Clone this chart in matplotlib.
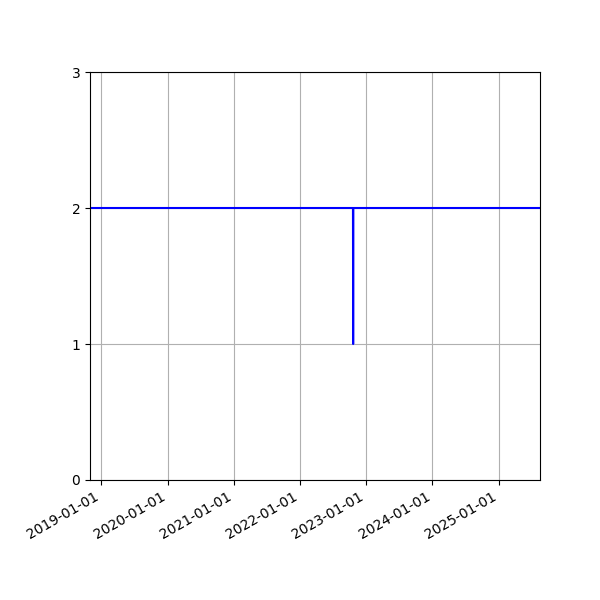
import matplotlib
matplotlib.use("Agg")
import matplotlib.pyplot as plt
import matplotlib.dates as mdates
import numpy as np

# Значення ряду (дати та рівні)
dates = np.array(["2018-10-30", "2022-10-20", "2022-10-21", "2022-10-22", "2025-08-17"],
                 dtype="datetime64[D]")
values = [2, 2, 1, 2, 2]

fig, ax = plt.subplots(figsize=(6, 6), dpi=100)
ax.plot(dates, values, color="blue", linewidth=1.5)

ax.set_xlim(dates[0], dates[-1])
ax.set_ylim(0, 3)
ax.set_yticks([0, 1, 2, 3])
ax.xaxis.set_major_locator(mdates.YearLocator())
ax.xaxis.set_major_formatter(mdates.DateFormatter("%Y-%m-%d"))
ax.grid(True)

fig.autofmt_xdate()
fig.subplots_adjust(left=0.15, right=0.9, top=0.88, bottom=0.2)
plt.savefig("out.png", dpi=100)
